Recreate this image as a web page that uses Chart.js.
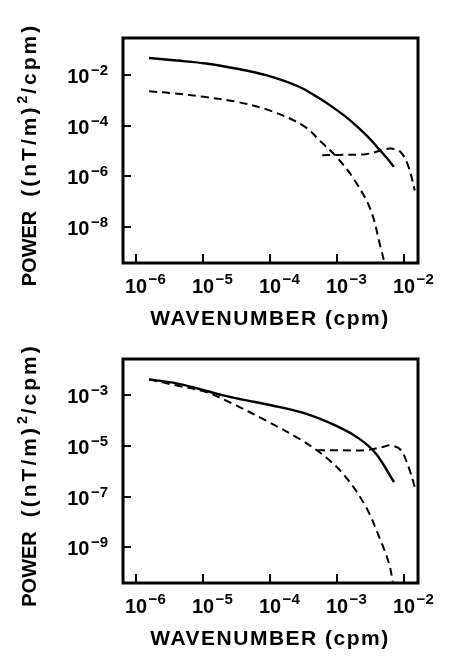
<!DOCTYPE html>
<html><head><meta charset="utf-8">
<script src="https://cdn.jsdelivr.net/npm/chart.js@4/dist/chart.umd.min.js"></script>
<style>
html,body{margin:0;padding:0;background:#fff;}
#wrap{position:relative;width:449px;height:656px;overflow:hidden;}
canvas{position:absolute;left:0;top:0;}
</style></head><body>
<div id="wrap">
<canvas id="c1" width="449" height="656"></canvas>
<canvas id="c2" width="449" height="656"></canvas>
</div>
<script>
// ---- tick labels (decade exponents) ----
const xTickExps = [-6, -5, -4, -3, -2];
const topYTickExps = [-2, -4, -6, -8];
const botYTickExps = [-3, -5, -7, -9];
const xTitle = "WAVENUMBER (cpm)";
const yTitleParts = ["POWER", "((nT/m)", "2", "/cpm)"];

// ---- top panel (wavenumber in cpm, power in (nT/m)^2/cpm) ----
const topSolidK = [1.55e-6, 4.0e-6, 1.1e-5, 3.2e-5, 8.7e-5, 2.7e-4, 5.0e-4, 8.5e-4, 1.4e-3, 2.14e-3, 3.2e-3, 4.27e-3, 5.6e-3, 7.08e-3];
const topSolidP = [4.8e-2, 3.8e-2, 2.9e-2, 1.8e-2, 1.0e-2, 3.5e-3, 1.4e-3, 5.6e-4, 2.1e-4, 7.9e-5, 2.8e-5, 1.17e-5, 5.2e-6, 2.4e-6];
const topDashAK = [1.55e-6, 3.16e-6, 1e-5, 3.16e-5, 1e-4, 3.16e-4, 5.6e-4, 1e-3, 1.78e-3, 3.16e-3, 4.47e-3, 5.0e-3];
const topDashAP = [2.3e-3, 2.0e-3, 1.4e-3, 8.9e-4, 4.0e-4, 1.0e-4, 2.5e-5, 5.6e-6, 7.9e-7, 5.0e-8, 1.6e-9, 5.0e-10];
const topDashBK = [6.0e-4, 1e-3, 2.7e-3, 4.8e-3, 6.3e-3, 8.9e-3, 1.17e-2, 1.45e-2];
const topDashBP = [6.9e-6, 7.1e-6, 7.6e-6, 1.1e-5, 1.26e-5, 9.3e-6, 2.4e-6, 2.8e-7];

// ---- bottom panel ----
const botSolidK = [1.55e-6, 4.0e-6, 8.7e-6, 2.0e-5, 3.9e-5, 1.07e-4, 3.4e-4, 1.07e-3, 2.14e-3, 3.8e-3, 7.1e-3];
const botSolidP = [4.3e-3, 3.0e-3, 1.8e-3, 1.0e-3, 6.8e-4, 4.0e-4, 1.9e-4, 5.6e-5, 1.95e-5, 5.0e-6, 3.7e-7];
const botDashAK = [1.55e-6, 3.9e-6, 1.1e-5, 2.75e-5, 8.7e-5, 2.7e-4, 6.8e-4, 1.35e-3, 2.7e-3, 4.27e-3, 6.0e-3, 6.8e-3];
const botDashAP = [4.3e-3, 2.5e-3, 1.35e-3, 4.7e-4, 1.0e-4, 1.95e-5, 3.6e-6, 5.9e-7, 3.9e-8, 2.5e-9, 2.2e-10, 4.3e-11];
const botDashBK = [5.0e-4, 1e-3, 2.7e-3, 4.8e-3, 6.3e-3, 8.9e-3, 1.17e-2, 1.45e-2];
const botDashBP = [6.8e-6, 6.8e-6, 6.8e-6, 9.1e-6, 1.05e-5, 7.1e-6, 1.5e-6, 2.4e-7];

// ---- axis ranges (log10 limits) ----
const xRange = [-6.2, -1.79];
const topYRange = [-9.42, -0.53];
const botYRange = [-10.42, -1.56];

const FONT = "'Liberation Sans', Arial, Helvetica, sans-serif";

function pts(k, p) { return k.map((v, i) => ({x: v, y: p[i]})); }

function ds(k, p, dashed) {
  return {
    data: pts(k, p),
    borderColor: '#000',
    borderWidth: dashed ? 2 : 2.4,
    borderDash: dashed ? [8, 5] : [],
    pointRadius: 0,
    fill: false,
    tension: 0.35
  };
}

const frame = {
  id: 'frame',
  afterDraw(chart, args, o) {
    const ctx = chart.ctx, a = chart.chartArea;
    const xs = chart.scales.x, ys = chart.scales.y;
    ctx.save();
    ctx.strokeStyle = '#000';
    ctx.fillStyle = '#000';
    ctx.lineWidth = 3;
    ctx.strokeRect(a.left, a.top, a.right - a.left, a.bottom - a.top);
    ctx.lineWidth = 2;
    // x ticks + labels
    o.xExps.forEach(e => {
      const px = Math.round(xs.getPixelForValue(Math.pow(10, e)));
      ctx.beginPath(); ctx.moveTo(px, a.bottom); ctx.lineTo(px, a.bottom - 9); ctx.stroke();
      ctx.font = "bold 20px " + FONT;
      ctx.textAlign = 'center'; ctx.textBaseline = 'alphabetic';
      const w10 = ctx.measureText('10').width;
      ctx.fillText('10', px, a.bottom + 30);
      ctx.font = "bold 15px " + FONT;
      ctx.textAlign = 'left';
      ctx.fillText('\u2212' + Math.abs(e), px + w10 / 2 + 1.5, a.bottom + 21);
    });
    // y ticks + labels
    o.yExps.forEach(e => {
      const py = Math.round(ys.getPixelForValue(Math.pow(10, e)));
      ctx.beginPath(); ctx.moveTo(a.left, py); ctx.lineTo(a.left + 8, py); ctx.stroke();
      ctx.font = "bold 15px " + FONT;
      const ex = '\u2212' + Math.abs(e);
      const we = ctx.measureText(ex).width;
      ctx.textAlign = 'right';
      const right = a.left - 15;
      ctx.fillText(ex, right, py);
      ctx.font = "bold 20px " + FONT;
      ctx.fillText('10', right - we - 1.5, py + 8);
    });
    // x title
    ctx.font = "bold 21px " + FONT;
    ctx.letterSpacing = '1.5px';
    ctx.textAlign = 'center';
    ctx.fillText(xTitle, 270, a.bottom + 62);
    // y title (rotated)
    const cy = (a.top + a.bottom) / 2 + 4;
    ctx.translate(36, cy);
    ctx.rotate(-Math.PI / 2);
    ctx.textAlign = 'left';
    const fonts = ["bold 20px " + FONT, "bold 21px " + FONT, "bold 14px " + FONT, "bold 21px " + FONT];
    const spacing = ['0px', '3px', '0px', '3px'];
    const dy = [0, 0, -9, 0];
    const gaps = [14, 1, 2, 0];
    const widths = yTitleParts.map((t, i) => { ctx.font = fonts[i]; ctx.letterSpacing = spacing[i]; return ctx.measureText(t).width; });
    const total = widths.reduce((s, w, i) => s + w + gaps[i], 0);
    let xx = -total / 2;
    yTitleParts.forEach((t, i) => {
      ctx.font = fonts[i]; ctx.letterSpacing = spacing[i];
      ctx.fillText(t, xx, dy[i]);
      xx += widths[i] + gaps[i];
    });
    ctx.restore();
  }
};

function makeChart(id, datasets, yRange, yExps, padding) {
  return new Chart(document.getElementById(id), {
    type: 'line',
    data: { datasets },
    options: {
      responsive: false,
      animation: false,
      layout: { padding },
      scales: {
        x: { type: 'logarithmic', min: Math.pow(10, xRange[0]), max: Math.pow(10, xRange[1]), display: false },
        y: { type: 'logarithmic', min: Math.pow(10, yRange[0]), max: Math.pow(10, yRange[1]), display: false }
      },
      plugins: {
        legend: { display: false },
        tooltip: { enabled: false },
        frame: { xExps: xTickExps, yExps }
      }
    },
    plugins: [frame]
  });
}

makeChart('c1', [
  ds(topSolidK, topSolidP, false),
  ds(topDashAK, topDashAP, true),
  ds(topDashBK, topDashBP, true)
], topYRange, topYTickExps, { left: 123, right: 31, top: 38, bottom: 393 });

makeChart('c2', [
  ds(botSolidK, botSolidP, false),
  ds(botDashAK, botDashAP, true),
  ds(botDashBK, botDashBP, true)
], botYRange, botYTickExps, { left: 123, right: 31, top: 359, bottom: 73 });
</script>
</body></html>
